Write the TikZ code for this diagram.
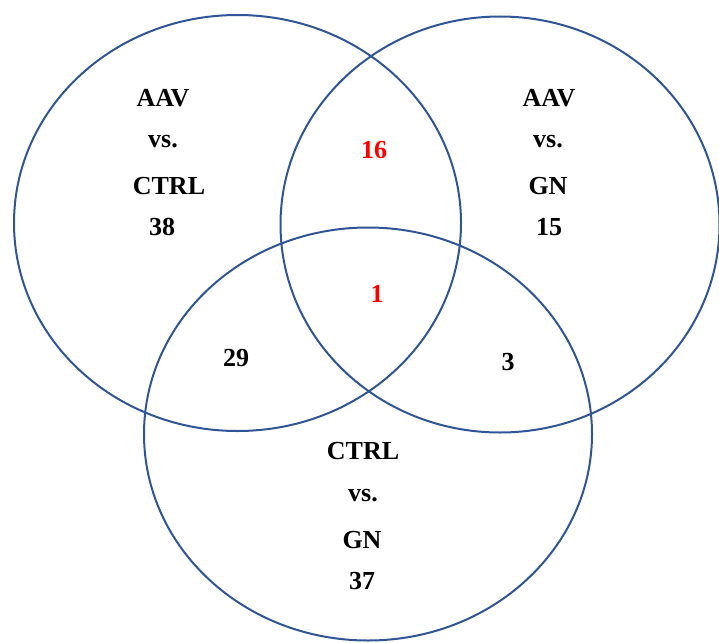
\documentclass[tikz,border=0pt]{standalone}
\usepackage{fontspec}
\setmainfont{Liberation Serif}
\definecolor{vblue}{HTML}{2F5597}
\begin{document}
\begin{tikzpicture}[x=1pt,y=-1pt,
  ring/.style={draw=vblue,line width=2pt},
  lbl/.style={font=\fontsize{26}{30}\selectfont\bfseries,text=black,inner sep=0pt},
  hot/.style={lbl,text=red}]
\useasboundingbox (0,0) rectangle (719,642);
\draw[ring] (237.5,223) ellipse [x radius=223.5, y radius=208];
\draw[ring] (500,224.5) ellipse [x radius=219.5, y radius=208];
\draw[ring] (368,434) ellipse [x radius=224, y radius=206.5];
% left set
\node[lbl] (l1) at (163,98) {AAV};
\node[lbl] (l2) at (163,142) {vs.};
\node[lbl] (l3) at (169,186) {CTRL};
\node[lbl] (l4) at (162,227) {38};
% right set
\node[lbl] (r1) at (549,98) {AAV};
\node[lbl] (r2) at (548,142) {vs.};
\node[lbl] (r3) at (548,186) {GN};
\node[lbl] (r4) at (549,227) {15};
% bottom set
\node[lbl] (b1) at (363,451) {CTRL};
\node[lbl] (b2) at (363,496) {vs.};
\node[lbl] (b3) at (362,540) {GN};
\node[lbl] (b4) at (362,581) {37};
% intersections
\node[hot] (i1) at (374,150) {16};
\node[hot] (i2) at (377,294) {1};
\node[lbl] (i3) at (236,358) {29};
\node[lbl] (i4) at (508,362) {3};
\end{tikzpicture}
\end{document}
